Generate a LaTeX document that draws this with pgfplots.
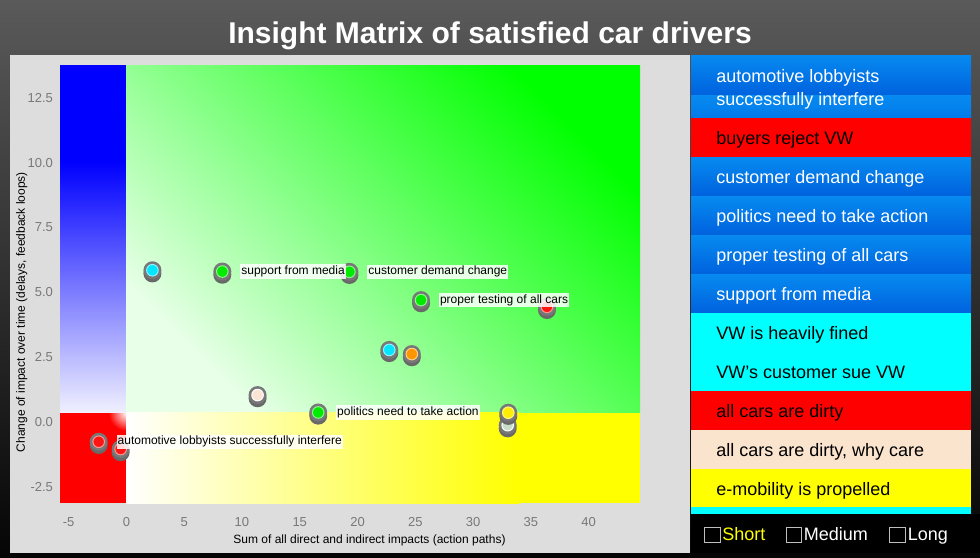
\documentclass[border=0pt]{standalone}
\usepackage{pgfplots}
\pgfplotsset{compat=1.18}
\usepackage{fontspec}
\setmainfont{Liberation Sans}
\definecolor{bgtop}{RGB}{90,90,90}
\definecolor{bgmid}{RGB}{45,45,45}
\definecolor{bgbot}{RGB}{5,5,5}
\definecolor{panelgray}{RGB}{221,221,221}
\definecolor{lbtop}{RGB}{6,138,240}
\definecolor{lbbot}{RGB}{0,98,222}
\definecolor{lbmid}{RGB}{2,122,234}
\definecolor{pred}{RGB}{255,0,0}
\definecolor{pblue}{RGB}{0,0,255}
\definecolor{pgreen}{RGB}{0,255,0}
\definecolor{pcyan}{RGB}{0,255,255}
\definecolor{pyellow}{RGB}{255,255,0}
\definecolor{pwhite}{RGB}{255,255,255}
\definecolor{ymid}{RGB}{255,255,140}
\definecolor{gmid}{RGB}{112,255,112}
\definecolor{bisque}{RGB}{250,228,206}
\definecolor{tickgray}{RGB}{120,120,120}
\definecolor{boxgray}{RGB}{190,190,190}
\definecolor{coingray}{RGB}{120,120,120}
\definecolor{coinshadow}{RGB}{105,105,105}
\definecolor{lavend}{RGB}{240,240,255}
\definecolor{greenA}{RGB}{232,255,232}
\definecolor{mgreen}{RGB}{0,235,0}
\definecolor{mcyan}{RGB}{0,230,255}
\definecolor{mred}{RGB}{255,20,20}
\definecolor{morange}{RGB}{255,150,0}
\definecolor{myellow}{RGB}{255,238,0}
\definecolor{mpale}{RGB}{200,222,200}
\definecolor{mbisque}{RGB}{252,228,212}
\pgfdeclareplotmark{coin}{%
  \begin{pgfscope}
    \pgfsetfillcolor{coinshadow}
    \pgfpathcircle{\pgfpoint{0pt}{-1.6pt}}{4.5pt}
    \pgfusepath{fill}
    \pgfsetfillcolor{coingray}
    \pgfpathcircle{\pgfpointorigin}{4.5pt}
    \pgfusepath{fill}
  \end{pgfscope}
  \pgfpathcircle{\pgfpointorigin}{2.9pt}
  \pgfusepath{fill,stroke}}
\begin{document}
\begin{tikzpicture}
\begin{scope}[x=0.5pt,y=-0.5pt]
  \shade[top color=bgtop, middle color=bgmid, bottom color=bgbot] (0,0) rectangle (980,557);
  \fill[panelgray] (10,55) rectangle (690,553);
  \node[anchor=base, text=white, font=\fontsize{15}{18}\selectfont\bfseries] at (490,43) {Insight Matrix of satisfied car drivers};
  % legend panel
  \shade[top color=lbtop, bottom color=lbbot] (691,55) rectangle (971,95);
  \shade[top color=lbtop, bottom color=lbmid] (691,95) rectangle (971,118);
  \fill[pred] (691,118) rectangle (971,157);
  \shade[top color=lbtop, bottom color=lbbot] (691,157) rectangle (971,196);
  \shade[top color=lbtop, bottom color=lbbot] (691,196) rectangle (971,235);
  \shade[top color=lbtop, bottom color=lbbot] (691,235) rectangle (971,274);
  \shade[top color=lbtop, bottom color=lbbot] (691,274) rectangle (971,313);
  \fill[pcyan] (691,313) rectangle (971,391);
  \fill[pred] (691,391) rectangle (971,430);
  \fill[bisque] (691,430) rectangle (971,469);
  \fill[pyellow] (691,469) rectangle (971,507);
  \fill[pcyan] (691,507) rectangle (971,514);
  \fill[black] (691,514) rectangle (980,553);
  \begin{scope}[every node/.style={anchor=base west, inner sep=0pt, font=\fontsize{9}{10}\selectfont}]
    \node[text=white] at (716,82) {automotive lobbyists};
    \node[text=white] at (716,105) {successfully interfere};
    \node[text=black] at (716,144) {buyers reject VW};
    \node[text=white] at (716,183) {customer demand change};
    \node[text=white] at (716,222) {politics need to take action};
    \node[text=white] at (716,261) {proper testing of all cars};
    \node[text=white] at (716,300) {support from media};
    \node[text=black] at (716,339) {VW is heavily fined};
    \node[text=black] at (716,378) {VW's customer sue VW};
    \node[text=black] at (716,417) {all cars are dirty};
    \node[text=black] at (716,456) {all cars are dirty, why care};
    \node[text=black] at (716,495) {e-mobility is propelled};
    \node[text=pyellow] at (722,540.5) {Short};
    \node[text=white] at (803.5,540.5) {Medium};
    \node[text=white] at (907.5,540.5) {Long};
  \end{scope}
  \draw[boxgray, fill=black, line width=0.5pt] (704.5,527) rectangle (720,542);
  \draw[boxgray, fill=black, line width=0.5pt] (786,527) rectangle (801.5,542);
  \draw[boxgray, fill=black, line width=0.5pt] (889.5,527) rectangle (905,542);
\end{scope}
\begin{axis}[
  at={(30pt,-251.5pt)}, anchor=south west,
  scale only axis, width=290pt, height=219pt,
  xmin=-5.75, xmax=44.45, ymin=-3.12, ymax=13.76,
  xtick={-5,0,5,10,15,20,25,30,35,40},
  ytick={-2.5,0,2.5,5,7.5,10,12.5},
  axis line style={draw=none}, major tick length=0pt,
  tick label style={font=\fontsize{6.5}{8}\selectfont, text=tickgray},
  /pgf/number format/assume math mode=true,
  yticklabel style={/pgf/number format/fixed, /pgf/number format/fixed zerofill, /pgf/number format/precision=1},
  xticklabel style={yshift=-3.5pt},
  xlabel={Sum of all direct and indirect impacts (action paths)},
  ylabel={Change of impact over time (delays, feedback loops)},
  label style={font=\fontsize{6}{7}\selectfont, text=black},
  xlabel style={at={(axis description cs:0.5336,-0.0856)}, anchor=center},
  ylabel style={at={(axis description cs:-0.066,0.436)}, anchor=center},
]
  \fill[pred] (axis cs:-5.75,-3.12) rectangle (axis cs:0,0.36);
  \shade[inner color=pwhite, outer color=pred] (axis cs:0,0.36) circle[radius=9pt];
  \fill[pblue] (axis cs:-5.75,10) rectangle (axis cs:0,13.76);
  \shade[top color=pblue, bottom color=lavend] (axis cs:-5.75,0.36) rectangle (axis cs:0,10.02);
  \shade[bottom color=greenA, middle color=gmid, top color=pgreen, shading angle=-45] (axis cs:0,0.36) rectangle (axis cs:44.45,13.76);
  \shade[left color=pwhite, middle color=ymid, right color=pyellow] (axis cs:0,-3.12) rectangle (axis cs:34,0.36);
  \fill[pyellow] (axis cs:33.99,-3.12) rectangle (axis cs:44.45,0.36);

  \addplot[only marks, mark=coin, mark options={fill=mred, draw=mred!45!white, line width=0.5pt}]
    coordinates {(-2.4,-0.76) (-0.5,-1.04) (36.4,4.44)};
  \addplot[only marks, mark=coin, mark options={fill=mpale, draw=white, line width=0.5pt}]
    coordinates {(33.0,-0.12)};
  \addplot[only marks, mark=coin, mark options={fill=myellow, draw=myellow!45!white, line width=0.5pt}]
    coordinates {(33.05,0.36)};
  \addplot[only marks, mark=coin, mark options={fill=mcyan, draw=mcyan!45!white, line width=0.5pt}]
    coordinates {(2.25,5.85) (22.75,2.78)};
  \addplot[only marks, mark=coin, mark options={fill=morange, draw=morange!45!white, line width=0.5pt}]
    coordinates {(24.7,2.62)};
  \addplot[only marks, mark=coin, mark options={fill=mbisque, draw=white, line width=0.5pt}]
    coordinates {(11.35,1.04)};
  \addplot[only marks, mark=coin, mark options={fill=mgreen, draw=mgreen!45!white, line width=0.5pt}]
    coordinates {(8.3,5.8) (19.3,5.79) (25.5,4.70) (16.6,0.37)};

  \addplot[only marks, mark=none, point meta=explicit symbolic, nodes near coords,
    every node near coord/.append style={anchor=west, xshift=8.7pt, yshift=0pt,
      fill=white, fill opacity=0.85, text opacity=1, text=black,
      inner xsep=0.6pt, inner ysep=0.8pt, font=\fontsize{6}{7}\selectfont}]
    coordinates {
      (8.3,5.8) [support from media]
      (19.3,5.79) [customer demand change]
      (25.5,4.70) [proper testing of all cars]
      (16.6,0.37) [politics need to take action]
      (-2.4,-0.76) [automotive lobbyists successfully interfere]
    };
\end{axis}
\end{tikzpicture}
\end{document}
